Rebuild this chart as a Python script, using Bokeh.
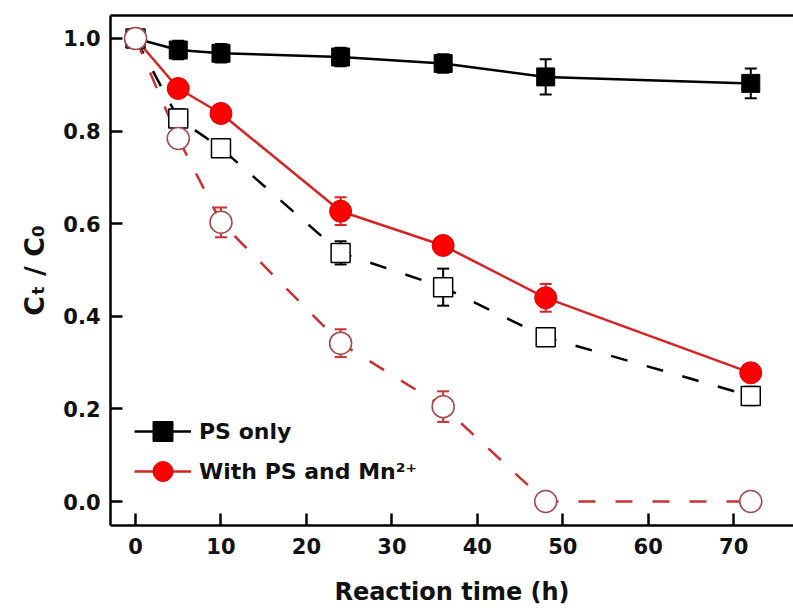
from bokeh.plotting import figure
from bokeh.models import (ColumnDataSource, Whisker, TeeHead, Legend, LegendItem,
                          LinearAxis, FixedTicker, PrintfTickFormatter, Range1d)
from bokeh.embed import file_html
from bokeh.resources import INLINE

# ---- data ----
time_h = [0, 5, 10, 24, 36, 48, 72]
ps_only = [1.0, 0.975, 0.968, 0.96, 0.946, 0.917, 0.903]
ps_only_err = [0.0, 0.02, 0.02, 0.02, 0.02, 0.038, 0.032]
ps_open = [1.0, 0.827, 0.763, 0.537, 0.463, 0.355, 0.228]
ps_open_err = [0.0, 0.02, 0.015, 0.025, 0.04, 0.015, 0.02]
ps_mn = [1.0, 0.892, 0.838, 0.627, 0.553, 0.44, 0.278]
ps_mn_err = [0.0, 0.01, 0.01, 0.03, 0.01, 0.03, 0.01]
ps_mn_open = [1.0, 0.784, 0.603, 0.342, 0.205, 0.0, 0.0]
ps_mn_open_err = [0.0, 0.02, 0.032, 0.03, 0.033, 0.0, 0.0]

x_ticks = [0, 10, 20, 30, 40, 50, 60, 70]
y_ticks = [0.0, 0.2, 0.4, 0.6, 0.8, 1.0]
legend_labels = ["PS only", "With PS and Mn²⁺"]

FONT = "DejaVu Sans"
BLACK = "#000000"
RED = "#ff0000"
RED_LINE = "#d42424"
RED_DASH = "#c83232"
MAROON = "#a04848"
TXT = "#111111"

p = figure(width=793, height=608, output_backend="svg", toolbar_location=None,
           x_range=Range1d(-2.93, 77.0), y_range=Range1d(-0.0517, 1.0496),
           min_border_left=110, min_border_right=0, min_border_top=15, min_border_bottom=82)
p.outline_line_color = None
p.xgrid.visible = False
p.ygrid.visible = False
p.background_fill_color = "white"
p.border_fill_color = "white"

for ax in (p.xaxis[0], p.yaxis[0]):
    ax.axis_line_width = 2.5
    ax.major_tick_in = 12
    ax.major_tick_out = 0
    ax.major_tick_line_width = 2.5
    ax.major_tick_line_color = BLACK
    ax.minor_tick_line_color = None
    ax.major_label_text_font = FONT
    ax.major_label_text_font_style = "bold"
    ax.major_label_text_font_size = "21px"
    ax.major_label_text_color = TXT
    ax.axis_label_text_font = FONT
    ax.axis_label_text_font_style = "bold"
    ax.axis_label_text_color = TXT

p.xaxis.ticker = FixedTicker(ticks=x_ticks)
p.yaxis.ticker = FixedTicker(ticks=y_ticks)
p.yaxis.formatter = PrintfTickFormatter(format="%.1f")
p.xaxis.major_label_standoff = 12
p.yaxis.major_label_standoff = 10
p.xaxis.axis_label = "Reaction time (h)"
p.xaxis.axis_label_text_font_size = "24px"
p.xaxis.axis_label_standoff = 21
p.yaxis.axis_label = "Cₜ / C₀"
p.yaxis.axis_label_text_font_size = "27px"
p.yaxis.axis_label_standoff = 10

top_axis = LinearAxis(ticker=FixedTicker(ticks=[]), major_label_text_font_size="0px",
                      axis_line_width=2.5, major_tick_line_color=None, minor_tick_line_color=None)
p.add_layout(top_axis, "above")

def add_series(y, err, line_color, dash, ecolor):
    src = ColumnDataSource(dict(x=time_h, y=y,
                                upper=[a + b for a, b in zip(y, err)],
                                lower=[a - b for a, b in zip(y, err)]))
    ln = p.line("x", "y", source=src, line_color=line_color, line_width=2.5, line_dash=dash)
    w = Whisker(source=src, base="x", upper="upper", lower="lower", dimension="height",
                line_color=ecolor, line_width=2,
                upper_head=TeeHead(size=12, line_color=ecolor, line_width=2),
                lower_head=TeeHead(size=12, line_color=ecolor, line_width=2))
    p.add_layout(w)
    return src, ln

s1, l1 = add_series(ps_only, ps_only_err, BLACK, "solid", BLACK)
s2, l2 = add_series(ps_open, ps_open_err, BLACK, "17 20", BLACK)
s3, l3 = add_series(ps_mn, ps_mn_err, RED_LINE, "solid", RED_LINE)
s4, l4 = add_series(ps_mn_open, ps_mn_open_err, RED_DASH, "17 20", RED_DASH)

m1 = p.scatter("x", "y", source=s1, marker="square", size=18, fill_color=BLACK, line_color=BLACK)
m2 = p.scatter("x", "y", source=s2, marker="square", size=19, fill_color="white", line_color=BLACK, line_width=1.5)
m3 = p.scatter("x", "y", source=s3, marker="circle", size=22, fill_color=RED, line_color="#e00000")
m4 = p.scatter("x", "y", source=s4, marker="circle", size=22, fill_color="white", line_color=MAROON, line_width=1.5)

def add_legend(label, renderers, loc):
    lg = Legend(items=[LegendItem(label=label, renderers=renderers)],
                location=loc, glyph_width=57, glyph_height=50, label_height=50,
                padding=0, margin=0, label_standoff=8,
                border_line_color=None, background_fill_alpha=0,
                label_text_font=FONT, label_text_font_style="bold",
                label_text_font_size="22px", label_text_color=TXT)
    p.add_layout(lg)

add_legend(legend_labels[0], [l1, m1], (24, 69))
add_legend(legend_labels[1], [l3, m3], (24, 29))

open("out.html", "w").write(file_html(p, INLINE))
